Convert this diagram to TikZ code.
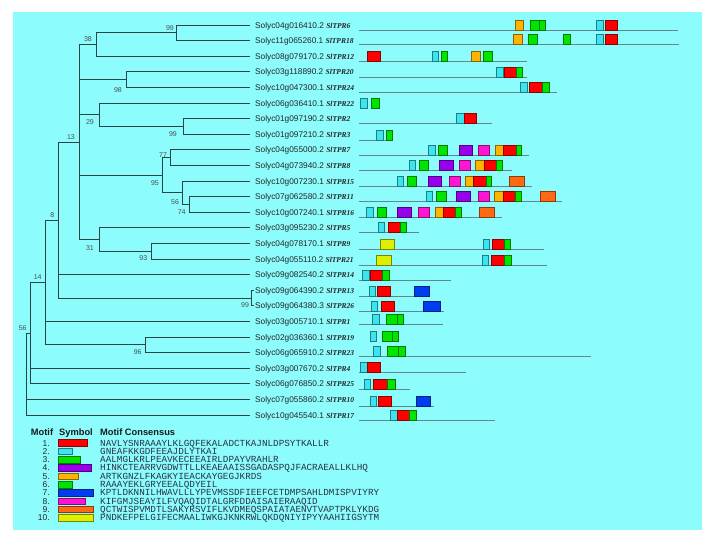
\documentclass[tikz,border=0pt]{standalone}
\usepackage{fontspec}
\setmainfont{Liberation Sans}
\newfontfamily\serifbi{Liberation Serif}
\newfontfamily\monof{Liberation Mono}
\definecolor{bgc}{RGB}{140,252,252}
\definecolor{treecol}{RGB}{40,70,70}
\definecolor{linecol}{RGB}{100,135,140}
\definecolor{mR}{RGB}{255,0,0}
\definecolor{mC}{RGB}{60,228,240}
\definecolor{mG}{RGB}{0,228,0}
\definecolor{mO}{RGB}{255,180,0}
\definecolor{mP}{RGB}{150,0,235}
\definecolor{mM}{RGB}{255,20,210}
\definecolor{mB}{RGB}{0,60,240}
\definecolor{mD}{RGB}{255,105,20}
\definecolor{mY}{RGB}{220,240,0}
\definecolor{constext}{RGB}{40,50,70}
\newcommand\tprf{\serifbi\bfseries\itshape\fontsize{7.5}{9}\selectfont}
\newcommand\mrow[2]{\foreach \a/\b/\c in {#2}{\filldraw[fill=\c,draw=\c!55!black,line width=0.5pt] (\a,#1-10) rectangle (\b,#1);}}
\begin{document}
\begin{tikzpicture}[x=1pt,y=-1pt,
  tl/.style={line width=0.8pt, draw=treecol},
  leaf/.style={anchor=base west, inner sep=0pt, font=\fontsize{8.3}{9}\selectfont, text=black!85},
  bs/.style={anchor=base, inner sep=0pt, font=\fontsize{7}{8}\selectfont, text=black!70},
  mline/.style={line width=0.8pt, draw=linecol},
  hd/.style={anchor=base west, inner sep=0pt, font=\bfseries\fontsize{9.3}{10}\selectfont, text=black!90},
  num/.style={anchor=base east, inner sep=0pt, font=\fontsize{8.5}{9}\selectfont, text=black!85},
  cons/.style={anchor=base west, inner sep=0pt, font=\monof\fontsize{9.3}{10}\selectfont, text=constext},
  sym/.style={line width=0.5pt}
]
\useasboundingbox (0,0) rectangle (713,542);
\fill[white] (0,0) rectangle (713,542);
\fill[bgc] (13,12) rectangle (702,530);

% leaf labels
\node[leaf] (L1) at (255,28) {Solyc04g016410.2 {\tprf SlTPR6}};
\node[leaf] (L2) at (255,43.6) {Solyc11g065260.1 {\tprf SlTPR18}};
\node[leaf] (L3) at (255,59.2) {Solyc08g079170.2 {\tprf SlTPR12}};
\node[leaf] (L4) at (255,74.8) {Solyc03g118890.2 {\tprf SlTPR20}};
\node[leaf] (L5) at (255,90.4) {Solyc10g047300.1 {\tprf SlTPR24}};
\node[leaf] (L6) at (255,106.0) {Solyc06g036410.1 {\tprf SlTPR22}};
\node[leaf] (L7) at (255,121.6) {Solyc01g097190.2 {\tprf SlTPR2}};
\node[leaf] (L8) at (255,137.2) {Solyc01g097210.2 {\tprf SlTPR3}};
\node[leaf] (L9) at (255,152.8) {Solyc04g055000.2 {\tprf SlTPR7}};
\node[leaf] (L10) at (255,168.4) {Solyc04g073940.2 {\tprf SlTPR8}};
\node[leaf] (L11) at (255,184.0) {Solyc10g007230.1 {\tprf SlTPR15}};
\node[leaf] (L12) at (255,199.6) {Solyc07g062580.2 {\tprf SlTPR11}};
\node[leaf] (L13) at (255,215.2) {Solyc10g007240.1 {\tprf SlTPR16}};
\node[leaf] (L14) at (255,230.8) {Solyc03g095230.2 {\tprf SlTPR5}};
\node[leaf] (L15) at (255,246.4) {Solyc04g078170.1 {\tprf SlTPR9}};
\node[leaf] (L16) at (255,262.0) {Solyc04g055110.2 {\tprf SlTPR21}};
\node[leaf] (L17) at (255,277.6) {Solyc09g082540.2 {\tprf SlTPR14}};
\node[leaf] (L18) at (255,293.2) {Solyc09g064390.2 {\tprf SlTPR13}};
\node[leaf] (L19) at (255,308.8) {Solyc09g064380.3 {\tprf SlTPR26}};
\node[leaf] (L20) at (255,324.4) {Solyc03g005710.1 {\tprf SlTPR1}};
\node[leaf] (L21) at (255,340.0) {Solyc02g036360.1 {\tprf SlTPR19}};
\node[leaf] (L22) at (255,355.6) {Solyc06g065910.2 {\tprf SlTPR23}};
\node[leaf] (L23) at (255,371.2) {Solyc03g007670.2 {\tprf SlTPR4}};
\node[leaf] (L24) at (255,386.8) {Solyc06g076850.2 {\tprf SlTPR25}};
\node[leaf] (L25) at (255,402.4) {Solyc07g055860.2 {\tprf SlTPR10}};
\node[leaf] (L26) at (255,418.0) {Solyc10g045540.1 {\tprf SlTPR17}};

% leaf ends
\foreach \i/\y in {1/25.0,2/40.6,3/56.2,4/71.8,5/87.4,6/103.0,7/118.6,8/134.2,9/149.8,10/165.4,11/181.0,12/196.6,13/212.2,14/227.8,15/243.4,16/259.0,17/274.6,20/321.4,21/337.0,22/352.6,23/368.2,24/383.8,25/399.4,26/415.0}
  {\coordinate (e\i) at (250,\y);}
\coordinate (e18) at (253.5,290.2);
\coordinate (e19) at (253.5,305.8);

% internal nodes
\coordinate (A) at (176,32.8);
\coordinate (B) at (96,44.5);
\coordinate (C) at (126.7,79.6);
\coordinate (D) at (183.3,126.4);
\coordinate (E) at (99,114.7);
\coordinate (F) at (170.7,157.6);
\coordinate (G) at (189.3,204.4);
\coordinate (H) at (182.7,192.7);
\coordinate (I) at (162.3,175.15);
\coordinate (J) at (151.7,251.2);
\coordinate (K) at (99,239.5);
\coordinate (M) at (79,142);
\coordinate (P) at (251.5,298);
\coordinate (N) at (58.3,220);
\coordinate (Q) at (145.7,344.8);
\coordinate (R) at (45,282.4);
\coordinate (S) at (30,333.1);
\coordinate (T) at (26.7,374);

% tree connectors
\draw[tl] (A) |- (e1); \draw[tl] (A) |- (e2);
\draw[tl] (B) |- (A); \draw[tl] (B) |- (e3);
\draw[tl] (C) |- (e4); \draw[tl] (C) |- (e5);
\draw[tl] (D) |- (e7); \draw[tl] (D) |- (e8);
\draw[tl] (E) |- (e6); \draw[tl] (E) |- (D);
\draw[tl] (F) |- (e9); \draw[tl] (F) |- (e10);
\draw[tl] (G) |- (e12); \draw[tl] (G) |- (e13);
\draw[tl] (H) |- (e11); \draw[tl] (H) |- (G);
\draw[tl] (I) |- (F); \draw[tl] (I) |- (H);
\draw[tl] (J) |- (e15); \draw[tl] (J) |- (e16);
\draw[tl] (K) |- (e14); \draw[tl] (K) |- (J);
\draw[tl] (M) |- (B); \draw[tl] (M) |- (C); \draw[tl] (M) |- (E); \draw[tl] (M) |- (I); \draw[tl] (M) |- (K);
\draw[tl] (P) |- (e18); \draw[tl] (P) |- (e19);
\draw[tl] (N) |- (M); \draw[tl] (N) |- (e17); \draw[tl] (N) |- (P);
\draw[tl] (Q) |- (e21); \draw[tl] (Q) |- (e22);
\draw[tl] (R) |- (N); \draw[tl] (R) |- (e20); \draw[tl] (R) |- (Q);
\draw[tl] (S) |- (R); \draw[tl] (S) |- (e23); \draw[tl] (S) |- (e24);
\draw[tl] (T) |- (S); \draw[tl] (T) |- (e25); \draw[tl] (T) |- (e26);

% bootstrap values
\node[bs] (bA) at (170,30.5) {99};
\node[bs] (bB) at (88,41.5) {38};
\node[bs] (bC) at (118,92.5) {98};
\node[bs] (bE) at (90,124.5) {29};
\node[bs] (bD) at (173,136.5) {99};
\node[bs] (bM) at (71,139.5) {13};
\node[bs] (bF) at (163,157.5) {77};
\node[bs] (bI) at (155,185.5) {95};
\node[bs] (bH) at (175,204.2) {56};
\node[bs] (bG) at (181.7,214.2) {74};
\node[bs] (bK) at (90,250.5) {31};
\node[bs] (bJ) at (143.3,260.8) {93};
\node[bs] (bN) at (52.3,217.5) {8};
\node[bs] (bP) at (245,307.5) {99};
\node[bs] (bR) at (37.7,279.2) {14};
\node[bs] (bQ) at (137.7,354.2) {96};
\node[bs] (bS) at (22.7,330.8) {56};

% motif lines
\foreach \y/\xe in {30/678.3,44.3/679,61/526.7,77.3/527.3,92.3/556.7,123.3/492.3,140/393,155/529,170.7/511.7,186/532.3,201/561.7,217.3/501.7,232.3/419.3,249.3/544,265.7/547.3,280/450.7,296/429,311/444,324.3/443.3,356.7/590.7,372.7/465.7,389.3/410,406/434.3,420/495}
  {\draw[mline] (359,\y) -- (\xe,\y);}

% motif boxes
\mrow{30}{515.7/523.3/mO,530/539.3/mG,539.3/545/mG,596.7/603.3/mC,605/617.3/mR}
\mrow{44.3}{513.7/522.3/mO,528.3/537.3/mG,563.3/570/mG,596.7/603.3/mC,605/617.3/mR}
\mrow{61}{367.7/380/mR,432.3/438.3/mC,441.7/447.7/mG,471.7/480/mO,483.3/492.3/mG}
\mrow{77.3}{496.7/503.3/mC,504/516.7/mR,516.7/522.3/mG}
\mrow{92.3}{520/527.3/mC,529/542.3/mR,542.3/549.3/mG}
\mrow{108.3}{360.7/367.3/mC,371.7/379/mG}
\mrow{123.3}{456.7/464/mC,464.3/476.7/mR}
\mrow{140}{376.7/383.3/mC,386/392.7/mG}
\mrow{155}{428.3/435/mC,438.3/447.3/mG,459/472.7/mP,478.3/489.3/mM,495.3/503.3/mO,503.3/516/mR,516/521.7/mG}
\mrow{170.7}{409/415.7/mC,419.3/428.3/mG,439.3/453.3/mP,459/470/mM,475.7/484/mO,484/496/mR,496/502.3/mG}
\mrow{186}{397.3/403.3/mC,407.3/416.7/mG,428/441.7/mP,449/460/mM,465.7/473.3/mO,473.3/486/mR,486/491.7/mG,509.3/524/mD}
\mrow{201}{426/432.7/mC,436.7/446/mG,456.7/470.7/mP,478.3/489/mM,494.3/503.3/mO,503.3/515.7/mR,515.7/521.7/mG,540/555/mD}
\mrow{217.3}{366.7/373.3/mC,377.7/386.7/mG,397.7/411.7/mP,418.3/429.3/mM,435/443.3/mO,443.3/455.7/mR,455.7/461.7/mG,479/494/mD}
\mrow{232.3}{378.3/384.3/mC,388.3/400.7/mR,400.7/406/mG}
\mrow{249.3}{380/394.3/mY,483.3/489.3/mC,492/504.3/mR,504.3/510.7/mG}
\mrow{265}{376.7/391.7/mY,482.7/488.7/mC,491.7/504.3/mR,504.3/511/mG}
\mrow{280}{362.3/369.3/mC,370/382.3/mR,382.3/389/mG}
\mrow{296}{369/375.7/mC,377.7/390/mR,414.3/429/mB}
\mrow{311}{371/377.7/mC,381/394.3/mR,423.3/440/mB}
\mrow{324.3}{372.7/379.3/mC,386.7/397.7/mG,397.7/403.7/mG}
\mrow{341.7}{370/376.7/mC,382.3/392.3/mG,392.3/398.3/mG}
\mrow{356.7}{373.3/380.7/mC,387.7/398.3/mG,398.3/405.7/mG}
\mrow{372.7}{360.7/367.7/mC,367.7/380/mR}
\mrow{389.3}{364/370.7/mC,373.3/387.7/mR,387.7/395/mG}
\mrow{406}{370/376.7/mC,378.3/391/mR,416/430.7/mB}
\mrow{420}{390/397.3/mC,397.3/409.3/mR,409.3/416/mG}

% legend
\node[hd] (hM) at (30.7,435.3) {Motif};
\node[hd] (hS) at (59,435.3) {Symbol};
\node[hd] (hC) at (100,435.3) {Motif Consensus};
\foreach \k/\y/\xe/\c/\s in {
 1/443/87.3/mR/NAVLYSNRAAAYLKLGQFEKALADCTKAJNLDPSYTKALLR,
 2/451.3/72.7/mC/GNEAFKKGDFEEAJDLYTKAI,
 3/459.6/80.7/mG/AALMGLKRLPEAVKECEEAIRLDPAYVRAHLR,
 4/467.9/91.7/mP/HINKCTEARRVGDWTTLLKEAEAAISSGADASPQJFACRAEALLKLHQ,
 5/476.2/78.3/mO/ARTKGNZLFKAGKYIEACKAYGEGJKRDS,
 6/484.5/72.7/mG/RAAAYEKLGRYEEALQDYEIL,
 7/492.8/93.3/mB/KPTLDKNNILHWAVLLLYPEVMSSDFIEEFCETDMPSAHLDMISPVIYRY,
 8/501.1/85.7/mM/KIFGMJSEAYILFVQAQIDTALGRFDDAISAIERAAQID,
 9/509.4/93.3/mD/QCTWISPVMDTLSAKYRSVIFLKVDMEQSPAIATAENVTVAPTPKLYKDG,
 10/517.7/93.3/mY/PNDKEFPELGIFECMAALIWKGJKNKRWLQKDQNIYIPYYAAHIIGSYTM}{
  \node[num] (n\k) at (50,\y+3) {\k.};
  \filldraw[sym,fill=\c,draw=\c!55!black] (58.3,\y-3.3) rectangle (\xe,\y+3.3);
  \node[cons] (c\k) at (100,\y+3) {\s};
}
\end{tikzpicture}
\end{document}
